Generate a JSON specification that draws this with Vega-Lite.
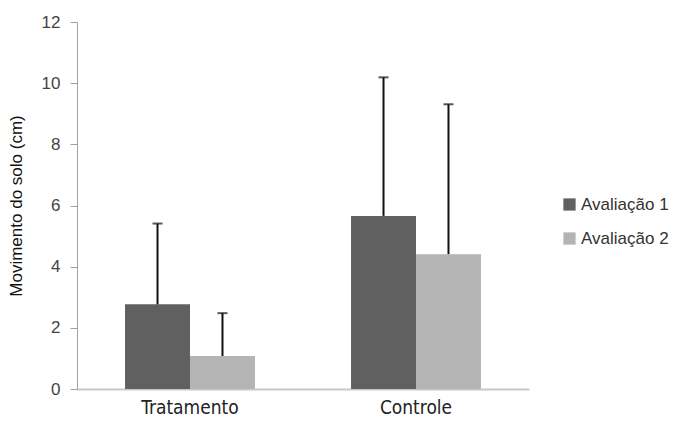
{
  "$schema": "https://vega.github.io/schema/vega-lite/v6.json",
  "width": 452,
  "height": 367,
  "autosize": {"type": "none"},
  "padding": {"left": 77, "top": 22, "right": 145, "bottom": 41},
  "background": "white",
  "config": {"view": {"stroke": null}, "font": "Liberation Sans"},
  "data": {"values": [
    {"grupo": "Tratamento", "serie": "Avaliação 1", "valor": 2.77, "sup": 5.41},
    {"grupo": "Tratamento", "serie": "Avaliação 2", "valor": 1.08, "sup": 2.48},
    {"grupo": "Controle", "serie": "Avaliação 1", "valor": 5.66, "sup": 10.19},
    {"grupo": "Controle", "serie": "Avaliação 2", "valor": 4.41, "sup": 9.31}
  ]},
  "encoding": {
    "x": {"field": "grupo", "type": "nominal", "sort": ["Tratamento", "Controle"],
      "scale": {"paddingInner": 0.425, "paddingOuter": 0.2125},
      "axis": {"title": null, "labelAngle": 0, "labelFontSize": 19, "labelFont": "DejaVu Sans Condensed, Liberation Sans", "labelColor": "#222", "labelPadding": 9, "ticks": false, "domainColor": "#c8c8c8", "domainWidth": 2}},
    "xOffset": {"field": "serie", "type": "nominal", "sort": ["Avaliação 1", "Avaliação 2"], "scale": {"paddingInner": 0, "paddingOuter": 0}}
  },
  "layer": [
    {
      "mark": {"type": "bar"},
      "encoding": {
        "y": {"field": "valor", "type": "quantitative",
          "scale": {"domain": [0, 12], "nice": false},
          "axis": {"title": "Movimento do solo (cm)", "titleFontSize": 17, "titleFontWeight": "normal", "titleColor": "#111", "titlePadding": 16,
            "values": [0, 2, 4, 6, 8, 10, 12], "grid": false, "labelFontSize": 17, "labelColor": "#444", "labelPadding": 10,
            "tickSize": 7, "tickColor": "#a0a0a0", "domainColor": "#a0a0a0"}},
        "color": {"field": "serie", "type": "nominal",
          "scale": {"domain": ["Avaliação 1", "Avaliação 2"], "range": ["#606060", "#b4b4b4"]},
          "legend": {"title": null, "orient": "none", "legendX": 484, "legendY": 174, "symbolType": "square", "symbolSize": 150, "symbolStrokeWidth": 0,
            "labelFontSize": 17, "labelColor": "#333", "rowPadding": 16, "labelOffset": 3}}
      }
    },
    {
      "mark": {"type": "rule", "color": "#111", "strokeWidth": 2},
      "encoding": {
        "y": {"field": "valor", "type": "quantitative"},
        "y2": {"field": "sup"}
      }
    },
    {
      "mark": {"type": "tick", "color": "#111", "size": 10, "thickness": 2},
      "encoding": {
        "y": {"field": "sup", "type": "quantitative"}
      }
    }
  ]
}
